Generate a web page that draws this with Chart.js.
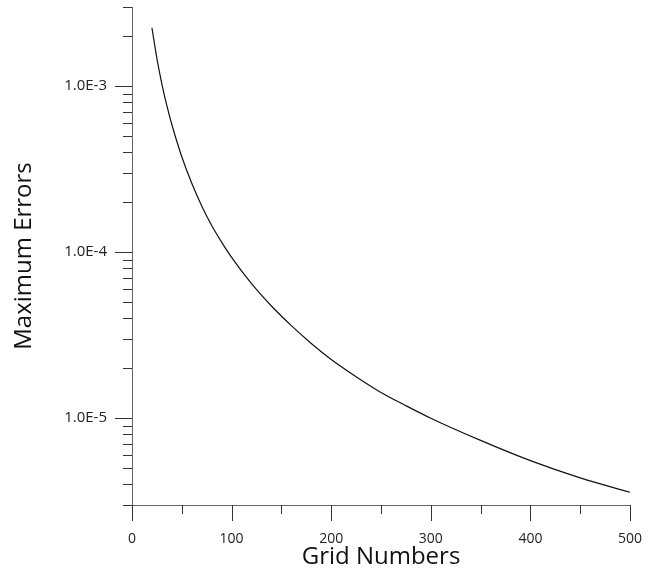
<!DOCTYPE html>
<html>
<head>
<meta charset="utf-8">
<script src="https://cdn.jsdelivr.net/npm/chart.js@4.4.1/dist/chart.umd.min.js"></script>
<style>
  html, body { margin: 0; padding: 0; background: #fff; }
</style>
</head>
<body>
<canvas id="error-chart" width="656" height="573"></canvas>
<script>
// Curve
const gridNumbers = [20, 25, 30, 35, 40, 50, 60, 70, 80, 90, 100, 120, 140, 160, 180, 200, 225, 250, 275, 300, 350, 400, 450, 500];
const maxErrors = [2.25e-3, 1.47e-3, 1.03e-3, 7.63e-4, 5.88e-4, 3.76e-4, 2.60e-4, 1.90e-4, 1.45e-4, 1.15e-4, 9.3e-5, 6.46e-5, 4.74e-5, 3.61e-5, 2.82e-5, 2.26e-5, 1.78e-5, 1.43e-5, 1.19e-5, 1.0e-5, 7.35e-6, 5.55e-6, 4.37e-6, 3.58e-6];

// Axis ticks
const xMajorTicks = [0, 100, 200, 300, 400, 500];
const xMinorTicks = [50, 150, 250, 350, 450];
const yMajorTicks = [1e-5, 1e-4, 1e-3];
const yTickLabels = ['1.0E-5', '1.0E-4', '1.0E-3'];
const yMinorTicks = [
  3e-6, 4e-6, 5e-6, 6e-6, 7e-6, 8e-6, 9e-6,
  2e-5, 3e-5, 4e-5, 5e-5, 6e-5, 7e-5, 8e-5, 9e-5,
  2e-4, 3e-4, 4e-4, 5e-4, 6e-4, 7e-4, 8e-4, 9e-4,
  2e-3, 3e-3
];

// Outward tick marks, long for major and short for minor
const tickMarks = {
  id: 'tickMarks',
  afterDraw(chart) {
    const { ctx, scales: { x, y } } = chart;
    ctx.save();
    ctx.strokeStyle = '#333';
    ctx.lineWidth = 1;

    const yTick = (v, len) => {
      const py = Math.round(y.getPixelForValue(v)) + 0.5;
      ctx.beginPath();
      ctx.moveTo(x.left - len, py);
      ctx.lineTo(x.left, py);
      ctx.stroke();
    };
    yMajorTicks.forEach(v => yTick(v, 17));
    yMinorTicks.forEach(v => yTick(v, 9));

    const xTick = (v, len) => {
      const px = Math.round(x.getPixelForValue(v)) + 0.5;
      ctx.beginPath();
      ctx.moveTo(px, y.bottom);
      ctx.lineTo(px, y.bottom + len);
      ctx.stroke();
    };
    xMajorTicks.forEach(v => xTick(v, 16));
    xMinorTicks.forEach(v => xTick(v, 9));

    ctx.restore();
  }
};

const ctx = document.getElementById('error-chart').getContext('2d');

new Chart(ctx, {
  type: 'line',
  data: {
    datasets: [{
      data: gridNumbers.map((n, i) => ({ x: n, y: maxErrors[i] })),
      borderColor: '#111',
      borderWidth: 1.2,
      pointRadius: 0,
      cubicInterpolationMode: 'monotone',
      fill: false
    }]
  },
  options: {
    responsive: false,
    animation: false,
    layout: {
      padding: { top: 7, right: 26, left: 0, bottom: 0 }
    },
    plugins: {
      legend: { display: false },
      tooltip: { enabled: false }
    },
    scales: {
      x: {
        type: 'linear',
        min: 0,
        max: 500,
        afterFit: s => {
          s.height = 68;
          s.paddingLeft = 0;
          s.paddingRight = 0;
          s.paddingTop = 0;
          s.paddingBottom = 0;
        },
        afterBuildTicks: s => { s.ticks = xMajorTicks.map(v => ({ value: v })); },
        grid: { display: false, drawTicks: false },
        border: { display: true, color: '#666', width: 1 },
        ticks: {
          padding: 26,
          color: '#222',
          font: { family: 'Open Sans', size: 14 },
          maxRotation: 0
        },
        title: {
          display: true,
          text: 'Grid Numbers',
          color: '#111',
          font: { family: 'Open Sans', size: 24 },
          padding: { top: 0, bottom: 1 }
        }
      },
      y: {
        type: 'logarithmic',
        min: 3e-6,
        max: 3e-3,
        afterFit: s => {
          s.width = 132;
          s.paddingLeft = 0;
          s.paddingRight = 0;
          s.paddingTop = 0;
          s.paddingBottom = 0;
        },
        afterBuildTicks: s => { s.ticks = yMajorTicks.map(v => ({ value: v })); },
        grid: { display: false, drawTicks: false },
        border: { display: true, color: '#666', width: 1 },
        ticks: {
          padding: 25,
          color: '#222',
          autoSkip: false,
          font: { family: 'Open Sans', size: 15 },
          callback: function(value) {
            const i = yMajorTicks.findIndex(v => Math.abs(v - value) / v < 1e-6);
            return i >= 0 ? yTickLabels[i] : '';
          }
        },
        title: {
          display: true,
          text: 'Maximum Errors',
          color: '#111',
          font: { family: 'Open Sans', size: 24 },
          padding: { top: 10, bottom: 0 }
        }
      }
    }
  },
  plugins: [tickMarks]
});
</script>
</body>
</html>
